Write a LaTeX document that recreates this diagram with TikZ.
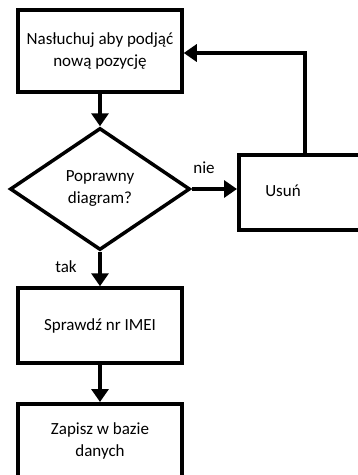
\documentclass[tikz,border=0pt]{standalone}
\usepackage{fontspec}
\setmainfont{Carlito}
\usetikzlibrary{arrows.meta,shapes.geometric}
\begin{document}
\begin{tikzpicture}[x=1pt,y=-1pt,
  every node/.style={font=\fontsize{17}{22}\selectfont},
  box/.style={draw,line width=3.5pt,rectangle,align=center,inner sep=0pt},
  arr/.style={line width=3.5pt,-{Triangle[width=17pt,length=13pt]}},
  lbl/.style={inner sep=0pt}]
\clip (0,0) rectangle (358,475);
\fill[white] (0,0) rectangle (358,475);
\node[box,minimum width=164pt,minimum height=82pt] (a) at (100,51) {Nasłuchuj aby podjąć\\nową pozycję};
\node[draw,line width=3.5pt,diamond,aspect=1.5,minimum width=180pt,minimum height=122pt,inner sep=0pt,align=center] (d) at (100,189) {Poprawny\\diagram?};
\node[box,minimum width=164pt,minimum height=75pt,anchor=north west] (u) at (237,153) {};
\node[lbl] (ut) at (283,191) {Usuń};
\node[box,minimum width=164pt,minimum height=75pt] (s) at (100,325.5) {Sprawdź nr IMEI};
\node[box,minimum width=164pt,minimum height=75pt,anchor=north] (z) at (100,402) {Zapisz w bazie\\danych};
\coordinate (c1) at (305,53);
\coordinate (ub) at (305,153);
\draw[arr] (a.south) -- (d.north);
\draw[arr] (d.east) -- (u.west |- d.east);
\draw[arr] (d.south) -- (s.north);
\draw[arr] (s.south) -- (z.north);
\draw[arr] (ub) -- (c1) -- (a.east |- c1);
\node[lbl] (nie) at (204,168) {nie};
\node[lbl] (tak) at (66,267) {tak};
\end{tikzpicture}
\end{document}
